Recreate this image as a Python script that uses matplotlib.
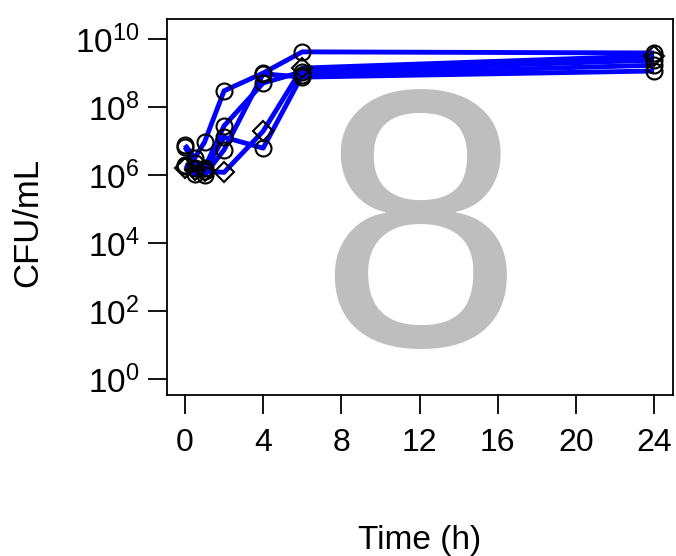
import matplotlib.pyplot as plt

plt.rcParams["font.family"] = ["Liberation Sans", "DejaVu Sans"]

# sampling times (h)
hours = [0, 0.5, 1, 2, 4, 6, 24]

# viable counts per replicate (CFU/mL)
rep_a = [7.6e6, 3.2e6, 9.3e6, 3.0e8, 1.0e9, 4.2e9, 3.9e9]
rep_b = [6.6e6, 2.2e6, 1.6e6, 2.8e7, 5.1e8, 1.1e9, 2.4e9]
rep_c = [2.0e6, 1.6e6, 1.3e6, 1.3e7, 6.2e6, 8.7e8, 1.7e9]
rep_d = [1.8e6, 1.1e6, 1.0e6, 5.5e6, 9.5e8, 7.6e8, 1.15e9]
rep_e = [1.6e6, 1.4e6, 1.3e6, 1.2e6, 1.95e7, 1.4e9, 3.2e9]

circle_reps = [rep_a, rep_b, rep_c, rep_d]
diamond_reps = [rep_e]

x_ticks = [0, 4, 8, 12, 16, 20, 24]
y_exps = [0, 2, 4, 6, 8, 10]
panel_label = "8"

W, H = 676, 556
fig = plt.figure(figsize=(W / 100, H / 100), dpi=100)
ax = fig.add_axes([167 / W, 1 - 395 / H, (673 - 167) / W, (395 - 19) / H])

ax.text(0.5, 0.133, panel_label, transform=ax.transAxes, ha="center",
        va="baseline", fontsize=264, color="#BEBEBE", zorder=1)

for reps, mk, ms in ((circle_reps, "o", 11.5), (diamond_reps, "D", 10)):
    for vals in reps:
        ax.plot(hours, vals, color="#0000FF", lw=3.5, zorder=2,
                solid_capstyle="butt")
        ax.plot(hours, vals, linestyle="none", marker=mk, ms=ms,
                mfc="none", mec="black", mew=1.5, zorder=3)

ax.set_yscale("log")
ax.set_xlim(-0.92, 24.97)
ax.set_ylim(10 ** -0.47, 10 ** 10.59)
ax.set_xticks(x_ticks)
ax.set_xticklabels([str(t) for t in x_ticks])
ax.set_yticks([10.0 ** e for e in y_exps])
ax.set_yticklabels([r"$\mathregular{10^{%d}}$" % e for e in y_exps])
ax.minorticks_off()

ax.tick_params(axis="both", direction="out", length=14, width=1.3,
               color="black")
ax.tick_params(axis="x", pad=10, labelsize=23)
ax.tick_params(axis="y", pad=6, labelsize=24)
for sp in ax.spines.values():
    sp.set_linewidth(1.3)

ax.set_xlabel("Time (h)", fontsize=24)
ax.set_ylabel("CFU/mL", fontsize=25)
ax.xaxis.set_label_coords(0.5, -0.386)
ax.xaxis.label.set_va("center")
ax.yaxis.set_label_coords(-0.275, 0.46)
ax.yaxis.label.set_va("center")

fig.savefig("out.png", dpi=100)
